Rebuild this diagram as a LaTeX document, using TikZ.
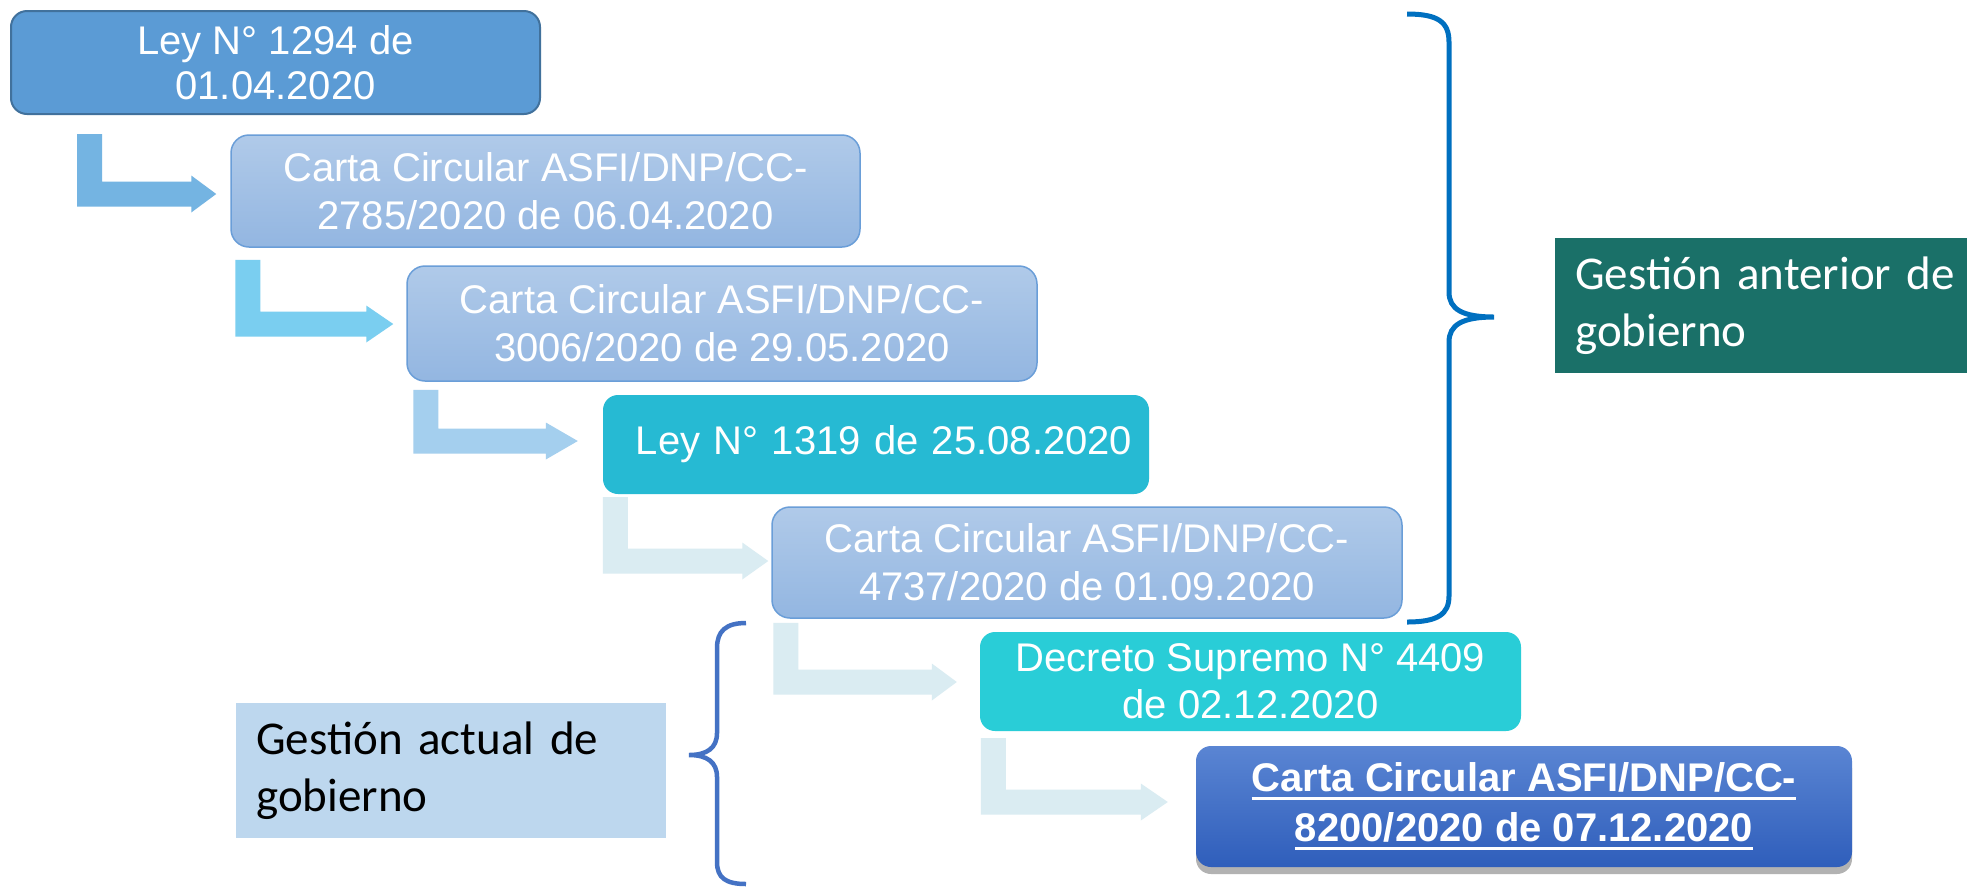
\documentclass[tikz,border=0pt]{standalone}
\usepackage{fontspec}
\setmainfont{Liberation Sans}
\newfontfamily\calib{Carlito}
\usetikzlibrary{calc,shadows}
\definecolor{bOneFill}{HTML}{5B9BD5}
\definecolor{bOneLine}{HTML}{41719C}
\definecolor{ccTop}{HTML}{B0CAE9}
\definecolor{ccBot}{HTML}{93B6E1}
\definecolor{ccLine}{HTML}{6A9ED8}
\definecolor{leyFill}{HTML}{26BAD3}
\definecolor{decFill}{HTML}{29CDD7}
\definecolor{lastTop}{HTML}{5A85D3}
\definecolor{lastBot}{HTML}{2F5EBB}
\definecolor{arrA}{HTML}{74B4E2}
\definecolor{arrB}{HTML}{7ACEF0}
\definecolor{arrC}{HTML}{A4CFEE}
\definecolor{arrD}{HTML}{DAECF2}
\definecolor{braceA}{HTML}{0070C0}
\definecolor{braceB}{HTML}{4472C4}
\definecolor{antFill}{HTML}{1A7068}
\definecolor{actFill}{HTML}{BDD7EE}
\newcommand{\myul}[1]{\setbox0\hbox{#1}\rlap{\rule[-8.5pt]{\wd0}{3pt}}\box0}
\newcommand{\bentarrow}[8]{% color, source, target, bar x offset, gap, tip back, centre offset, head length
\fill[#1] let \p1=(#2.south west), \p2=($(#3.west)+(0,#7)$) in
 (\x1+#4pt,\y1-#5pt) -- (\x1+#4pt+25pt,\y1-#5pt)
 -- (\x1+#4pt+25pt,\y2+12.5pt) -- (\x2-#6pt-#8pt,\y2+12.5pt)
 -- (\x2-#6pt-#8pt,\y2+18.5pt) -- (\x2-#6pt,\y2)
 -- (\x2-#6pt-#8pt,\y2-18.5pt) -- (\x2-#6pt-#8pt,\y2-12.5pt)
 -- (\x1+#4pt,\y2-12.5pt) -- cycle;}
\begin{document}
\begin{tikzpicture}[x=1pt,y=-1pt,
  box/.style={rounded corners=18pt, inner sep=0pt, align=center, text=white,
    font=\fontsize{40}{48}\selectfont},
  ccbox/.style={box, draw=ccLine, line width=1.5pt, top color=ccTop, bottom color=ccBot},
  gbox/.style={anchor=north west, inner xsep=20pt, inner ysep=0pt, text width=390pt,
    align=left, minimum height=135pt, font=\calib\fontsize{47}{57}\selectfont},
  bracepath/.style={line width=5pt, line cap=butt}]
\useasboundingbox (0,0) rectangle (1967,887);
\fill[white] (0,0) rectangle (1967,887);

% boxes
\node[box, fill=bOneFill, draw=bOneLine, line width=2pt, rounded corners=16pt,
  minimum width=529pt, minimum height=103pt, font=\fontsize{40}{45}\selectfont]
  (b1) at (275.5,62.5) {Ley N° 1294 de\\01.04.2020};
\node[ccbox, minimum width=629pt, minimum height=112pt]
  (b2) at (545.5,191) {Carta Circular ASFI/DNP/CC-\\2785/2020 de 06.04.2020};
\node[ccbox, minimum width=630pt, minimum height=115pt]
  (b3) at (722,323.5) {Carta Circular ASFI/DNP/CC-\\3006/2020 de 29.05.2020};
\node[box, fill=leyFill, rounded corners=15pt, minimum width=546pt, minimum height=99pt,
  text width=546pt]
  (b4) at (876,444.5) {\hspace*{16pt}Ley N° 1319 de 25.08.2020};
\node[ccbox, minimum width=630pt, minimum height=111pt]
  (b5) at (1087,562.5) {Carta Circular ASFI/DNP/CC-\\4737/2020 de 01.09.2020};
\node[box, fill=decFill, rounded corners=15pt, minimum width=541pt, minimum height=99pt,
  font=\fontsize{40}{47}\selectfont]
  (b6) at (1250.5,681.5) {Decreto Supremo N° 4409\\de 02.12.2020};
\node[box, top color=lastTop, bottom color=lastBot, rounded corners=15pt,
  minimum width=656pt, minimum height=121pt, font=\bfseries\fontsize{40}{50}\selectfont,
  drop shadow={shadow xshift=0pt, shadow yshift=-7pt, opacity=0.3, fill=black}]
  (b7) at (1524,806.5) {\myul{Carta Circular ASFI/DNP/CC-}\\\myul{8200/2020 de 07.12.2020}};

% bent arrows
\bentarrow{arrA}{b1}{b2}{67}{19}{14}{3}{25}
\bentarrow{arrB}{b2}{b3}{5}{12}{13}{0.5}{27}
\bentarrow{arrC}{b3}{b4}{7}{8}{25}{-3.5}{32}
\bentarrow{arrD}{b4}{b5}{0}{3}{3}{-1.5}{26}
\bentarrow{arrD}{b5}{b6}{2}{4}{23}{0.5}{25}
\bentarrow{arrD}{b6}{b7}{1}{7}{28}{-4.5}{27}

% braces
\draw[bracepath, braceA] (1407,14) .. controls (1438,14) and (1449,22) .. (1449,42)
  -- (1449,292) .. controls (1449,309) and (1462,317) .. (1494,317)
  .. controls (1462,317) and (1449,325) .. (1449,342)
  -- (1449,596) .. controls (1449,614) and (1438,622) .. (1407,622);
\draw[bracepath, braceB, line width=4.5pt] (746,623) .. controls (726,623) and (717,631) .. (717,648)
  -- (717,733) .. controls (717,748) and (707,755) .. (689,755)
  .. controls (707,755) and (717,762) .. (717,777)
  -- (717,862) .. controls (717,878) and (726,884) .. (746,884);

% labels
\node[gbox, fill=antFill, text=white] (g1) at (1555,238) {Gestión anterior de\\gobierno};
\node[gbox, fill=actFill, text=black, text width=390pt, minimum width=430pt] (g2) at (236,703) {Gestión actual de\\gobierno};
\end{tikzpicture}
\end{document}
